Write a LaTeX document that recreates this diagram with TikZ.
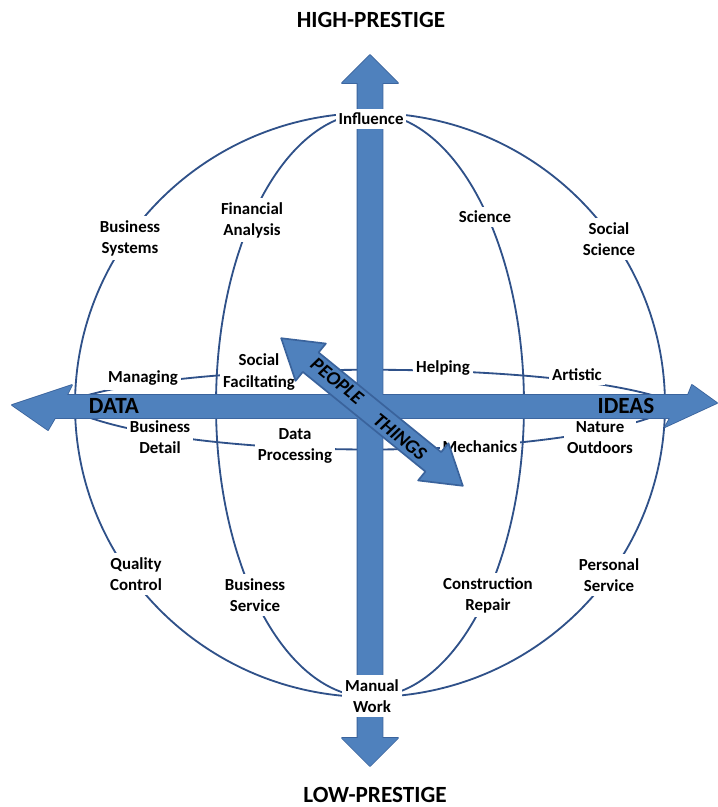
\documentclass[tikz,border=0pt]{standalone}
\usepackage{fontspec}
\setmainfont{Carlito}
\definecolor{arrowblue}{HTML}{4F81BD}
\definecolor{edgeblue}{HTML}{3A639C}
\definecolor{lineblue}{HTML}{2F5189}

% outlines of the two axis arrows
\newcommand{\vertshape}{(370,55) -- (398,83) -- (382.5,83) -- (382.5,738) -- (398,738) -- (370,766) -- (342,738) -- (357.5,738) -- (357.5,83) -- (342,83) -- cycle}
\newcommand{\horshape}{(12,405) -- (72,385) -- (67,395) -- (688,395) -- (692,385) -- (717,403) -- (665,427) -- (670,418) -- (55,418) -- (48,430) -- cycle}

\begin{document}
\begin{tikzpicture}[x=0.25mm,y=-0.25mm,
    lbl/.style={fill=white,inner xsep=2pt,inner ysep=3pt,align=center,
      font=\bfseries\fontsize{12}{15}\selectfont},
    meridian/.style={lineblue,line width=1.3pt},
    axis/.style={draw=edgeblue,fill=arrowblue,line width=1.2pt,line join=round},
    big/.style={anchor=base,font=\bfseries\fontsize{16.5}{18}\selectfont}]
    \useasboundingbox (0,0) rectangle (718,807);

    % globe lines
    \draw[meridian] (370,405) ellipse [x radius=295,y radius=292];
    \draw[meridian] (370,405) ellipse [x radius=154,y radius=292];
    \coordinate (upW) at (75,399);
    \coordinate (upE) at (665,399);
    \coordinate (loW) at (75,412);
    \coordinate (loE) at (665,412);
    \draw[meridian] (upW) .. controls (190,360) and (550,360) .. (upE);
    \draw[meridian] (loW) .. controls (190,462) and (550,462) .. (loE);

    % interest areas
    \node[lbl] (fin) at (252,220) {Financial\\Analysis};
    \node[lbl] (bsys) at (130,238) {Business\\Systems};
    \node[lbl] (sci) at (485,217) {Science};
    \node[lbl] (socsci) at (609,239) {Social\\Science};
    \node[lbl] (mng) at (143,378) {Managing};
    \node[lbl] (socfac) at (259,372) {Social\\Faciltating};
    \node[lbl] (help) at (443,368) {Helping};
    \node[lbl] (art) at (577,375) {Artistic};
    \node[lbl] (bdet) at (160,437) {Business\\Detail};
    \node[lbl] (dproc) at (295,446) {Data\\Processing};
    \node[lbl] (mech) at (480,447) {Mechanics};
    \node[lbl] (nat) at (600,438) {Nature\\Outdoors};
    \node[lbl] (qc) at (136,574) {Quality\\Control};
    \node[lbl] (bserv) at (255,595) {Business\\Service};
    \node[lbl] (constr) at (488,595) {Construction\\Repair};
    \node[lbl] (pserv) at (609,575) {Personal\\Service};

    % axes, fill drawn again to hide the seams where they cross
    \draw[axis] \vertshape;
    \draw[axis] \horshape;
    \fill[arrowblue] \vertshape;
    \fill[arrowblue] \horshape;
    \node[big] (data) at (114,413) {DATA};
    \node[big] (ideas) at (626,413) {IDEAS};

    \node[lbl] (inf) at (371,119) {Influence};
    \node[lbl] (manual) at (372,696) {Manual\\Work};

    % people - things axis
    \begin{scope}[shift={(372,412)},rotate=-39.1]
        \draw[axis] (-117,0) -- (-79,-24) -- (-79,-12.5) -- (79,-12.5) -- (79,-24)
            -- (117,0) -- (79,24) -- (79,12.5) -- (-79,12.5) -- (-79,24) -- cycle;
    \end{scope}
    \node[rotate=-39,inner sep=0pt,font=\bfseries\itshape\fontsize{14}{16}\selectfont] (people) at (337,381) {PEOPLE};
    \node[rotate=-39,inner sep=0pt,font=\bfseries\itshape\fontsize{14}{16}\selectfont] (things) at (400,437) {THINGS};

    \node[big] (high) at (371,27) {HIGH-PRESTIGE};
    \node[big] (low) at (375,802) {LOW-PRESTIGE};
\end{tikzpicture}
\end{document}
